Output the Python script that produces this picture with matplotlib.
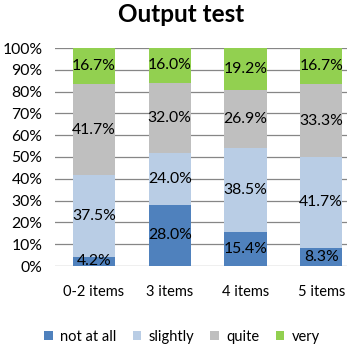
import matplotlib.pyplot as plt
import numpy as np

categories = ["0-2 items", "3 items", "4 items", "5 items"]
series_names = ["not at all", "slightly", "quite", "very"]
not_at_all = [4.2, 28.0, 15.4, 8.3]
slightly = [37.5, 24.0, 38.5, 41.7]
quite = [41.7, 32.0, 26.9, 33.3]
very = [16.7, 16.0, 19.2, 16.7]
colors = ["#4F81BD", "#B9CDE5", "#BFBFBF", "#92D050"]

plt.rcParams['font.family'] = ['Lato', 'DejaVu Sans']

fig = plt.figure(figsize=(3.62, 3.47), dpi=100)
ax = fig.add_axes([55 / 362, 1 - 266 / 347, (347 - 55) / 362, (266 - 48) / 347])

x = np.arange(len(categories))
bottom = np.zeros(len(categories))
for name, vals, c in zip(series_names, [not_at_all, slightly, quite, very], colors):
    vals = np.array(vals)
    ax.bar(x, vals, width=0.555, bottom=bottom, color=c, label=name, zorder=2)
    for xi, b, v in zip(x, bottom, vals):
        ax.text(xi, b + v / 2, f"{v:.1f}%", ha='center', va='center', fontsize=11.3, zorder=3)
    bottom += vals

ax.set_xlim(-0.515, 3.34)
ax.set_ylim(0, 100)
ax.set_yticks(np.arange(0, 101, 10))
ax.set_yticklabels([f"{v}%" for v in range(0, 101, 10)], fontsize=11.3)
ax.yaxis.grid(True, color="#868686", linewidth=0.9, zorder=0)
ax.tick_params(axis='y', length=0, pad=9)
ax.set_xticks(x)
ax.set_xticklabels(categories, fontsize=10.5)
ax.tick_params(axis='x', length=0, pad=14)
for s in ax.spines.values():
    s.set_visible(False)

fig.text(0.5, 1 - 14 / 347, "Output test", ha='center', va='center', fontsize=17.5, fontweight='bold')
fig.legend(loc='center', bbox_to_anchor=(182 / 362, 1 - 337 / 347), ncol=4, frameon=False,
           fontsize=10.5, handlelength=0.6, handleheight=0.6, handletextpad=0.5, columnspacing=1.1)

fig.savefig("out.png", dpi=100)
